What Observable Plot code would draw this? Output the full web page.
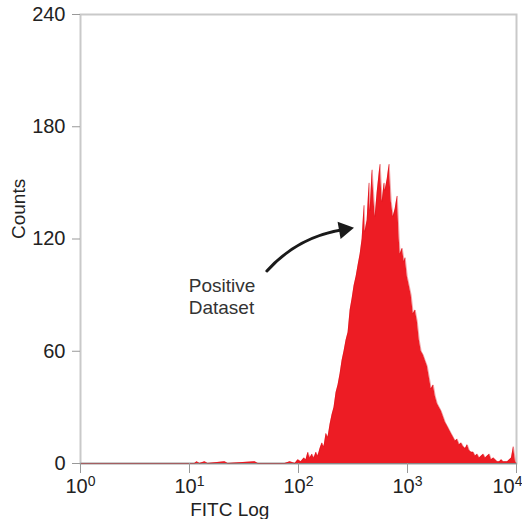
<!DOCTYPE html>
<html>
<head>
<meta charset="utf-8">
<script src="https://cdn.jsdelivr.net/npm/d3@7"></script>
<script src="https://cdn.jsdelivr.net/npm/@observablehq/plot@0.6"></script>
<style>
  html, body { margin: 0; padding: 0; background: #fff; overflow: hidden; }
  svg { display: block; }
  g[aria-label="y-axis tick"] path, g[aria-label="x-axis tick"] path { stroke: #999; }
  g[aria-label="y-axis tick label"] { fill: #222; }
</style>
</head>
<body>
<div id="chart"></div>
<script>
// FITC position on the log axis (decades: 0 = 10^0 ... 4 = 10^4)
const decades = [
  0, 0.634, 1.048, 1.067, 1.094, 1.140, 1.168, 1.324, 1.352, 1.600, 1.628, 1.876, 1.922, 1.968,
  1.995, 2.023, 2.051, 2.069, 2.087, 2.106, 2.124, 2.143, 2.161, 2.179, 2.198, 2.216, 2.234, 2.253,
  2.271, 2.290, 2.308, 2.326, 2.345, 2.363, 2.382, 2.400, 2.418, 2.437, 2.455, 2.474, 2.492, 2.510,
  2.529, 2.547, 2.566, 2.584, 2.602, 2.611, 2.630, 2.648, 2.657, 2.676, 2.694, 2.703, 2.722, 2.740,
  2.749, 2.768, 2.786, 2.795, 2.814, 2.832, 2.851, 2.869, 2.887, 2.906, 2.924, 2.933, 2.952, 2.970,
  2.979, 2.998, 3.016, 3.034, 3.053, 3.071, 3.090, 3.108, 3.126, 3.145, 3.163, 3.182, 3.200, 3.218,
  3.237, 3.255, 3.274, 3.292, 3.310, 3.329, 3.347, 3.366, 3.384, 3.402, 3.421, 3.439, 3.457, 3.476,
  3.494, 3.513, 3.531, 3.549, 3.568, 3.586, 3.605, 3.623, 3.641, 3.660, 3.678, 3.697, 3.715, 3.733,
  3.752, 3.770, 3.789, 3.807, 3.825, 3.844, 3.862, 3.880, 3.899, 3.917, 3.936, 3.954, 3.972, 3.991, 4.0
];
// Event counts
const counts = [
  0, 0, 0, 1, 0, 1, 0, 1, 0, 1, 0, 0, 1, 0,
  2, 1, 3, 2, 6, 3, 5, 3, 6, 4, 8, 11, 9, 16,
  14, 21, 26, 30, 38, 42, 48, 55, 60, 66, 70, 82, 88, 95,
  100, 106, 112, 120, 138, 124, 130, 150, 135, 157, 140, 132, 145, 155,
  160, 140, 150, 146, 152, 160, 140, 132, 136, 143, 120, 112, 115, 108,
  110, 100, 95, 90, 80, 82, 76, 66, 60, 58, 55, 52, 46, 40,
  42, 36, 32, 30, 28, 25, 22, 20, 18, 16, 14, 12, 13, 10,
  11, 9, 8, 10, 7, 6, 6, 4, 5, 3, 4, 5, 3, 4,
  5, 2, 3, 2, 1, 1, 2, 1, 1, 1, 2, 3, 9, 1, 0
];

const xTicks = [0, 1, 2, 3, 4];
const xTickBase = "10";
const xTickExponents = ["0", "1", "2", "3", "4"];
const yTicks = [0, 60, 120, 180, 240];
const xLabel = "FITC Log";
const yLabel = "Counts";
const annotationText = "Positive\nDataset";
const arrowFrom = {x: 1.710, y: 102.9};
const arrowTo = {x: 2.418, y: 125.1};

const histogram = decades.map((d, i) => ({x: d, y: counts[i]}));
const tickLabels = xTicks.map((d, i) => ({x: d, base: xTickBase, exp: xTickExponents[i]}));

const font = "'Liberation Sans', Arial, Helvetica, sans-serif";

const chart = Plot.plot({
  width: 522,
  height: 519,
  marginLeft: 80,
  marginRight: 6,
  marginTop: 14,
  marginBottom: 56,
  style: {fontFamily: font, fontSize: "20px", color: "#222", background: "#fff"},
  x: {domain: [0, 4]},
  y: {domain: [0, 240]},
  marks: [
    Plot.frame({stroke: "#c9c9c9", strokeWidth: 2}),
    Plot.ruleY([0], {stroke: "#888", strokeWidth: 1.5}),
    Plot.areaY(histogram, {x: "x", y: "y", fill: "#ed1c24", curve: "linear"}),
    Plot.lineY(histogram, {x: "x", y: "y", stroke: "#d8141c", strokeWidth: 0.6, strokeOpacity: 0.6}),
    Plot.axisY({ticks: yTicks, tickSize: 8, tickPadding: 7, fontSize: 20, label: null}),
    Plot.axisX({ticks: xTicks, tickFormat: () => "", tickSize: 10, label: null}),
    Plot.text(tickLabels.slice(0, 4), {x: "x", y: 0, dy: 15, lineAnchor: "top", text: d => d.base + d.exp, fontSize: 20, fill: "#222", className: "xtl"}),
    Plot.text(tickLabels.slice(4), {x: "x", y: 0, dy: 15, dx: 6, lineAnchor: "top", textAnchor: "end", text: d => d.base + d.exp, fontSize: 20, fill: "#222", className: "xtl"}),
    Plot.text([yLabel], {frameAnchor: "left", dx: -62, rotate: -90, text: d => d, fontSize: 19, fill: "#222"}),
    Plot.text([xLabel], {x: 1.37, y: 0, dy: 46, text: d => d, fontSize: 19, fill: "#222"}),
    Plot.text([annotationText], {x: 0.993, y: 89.5, text: d => d, textAnchor: "start", fontSize: 19, lineHeight: 1.15, fill: "#333"}),
    Plot.arrow([0], {x1: () => arrowFrom.x, y1: () => arrowFrom.y, x2: () => arrowTo.x, y2: () => arrowTo.y, bend: 20, headLength: 0, stroke: "#1a1a1a", strokeWidth: 3}),
    Plot.dot([0], {x: () => arrowTo.x, y: () => arrowTo.y, symbol: "triangle", r: 6.5, rotate: 80, fill: "#1a1a1a", stroke: "none"})
  ]
});

// Render exponents as raised smaller digits
d3.select(chart).selectAll("g.xtl text").each(function(d, i, nodes) {
  const t = d3.select(this);
  const full = t.text();
  const base = full.slice(0, xTickBase.length);
  const exp = full.slice(xTickBase.length);
  t.text(null);
  t.append("tspan").text(base);
  t.append("tspan").attr("font-size", 14).attr("dy", -7).text(exp);
});

document.getElementById("chart").appendChild(chart);
</script>
</body>
</html>
